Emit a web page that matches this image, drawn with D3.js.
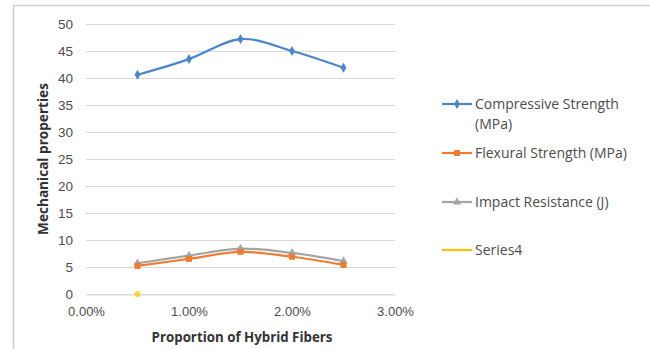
<!DOCTYPE html>
<html>
<head>
<meta charset="utf-8">
<script src="https://cdn.jsdelivr.net/npm/d3@7/dist/d3.min.js"></script>
<style>
  html, body { margin: 0; padding: 0; background: #fff; }
  svg { display: block; font-family: "Open Sans", "Liberation Sans", sans-serif; }
</style>
</head>
<body>
<svg id="chart" width="650" height="349"></svg>
<script>
// Fiber proportions (fraction) and measured properties
const proportions = [0.005, 0.010, 0.015, 0.020, 0.025];
const compressive = [40.6, 43.5, 47.2, 45.0, 41.9];
const flexural = [5.2, 6.5, 7.8, 6.9, 5.4];
const impact = [5.7, 7.1, 8.4, 7.6, 6.1];
const series4 = [0];
const seriesNames = ["Compressive Strength (MPa)", "Flexural Strength (MPa)", "Impact Resistance (J)", "Series4"];
const xTicks = [0, 0.01, 0.02, 0.03];
const yTicks = [0, 5, 10, 15, 20, 25, 30, 35, 40, 45, 50];

const svg = d3.select("#chart");
const W = 650, H = 349;

// outer chart frame (top and left edges visible)
svg.append("path")
  .attr("d", `M13.5,${H} L13.5,5.5 L${W},5.5`)
  .attr("fill", "none").attr("stroke", "#d0d0d0").attr("stroke-width", 1.5);

const plot = { left: 86, right: 395, top: 24, bottom: 294 };
const x = d3.scaleLinear().domain([0, 0.03]).range([plot.left, plot.right]);
const y = d3.scaleLinear().domain([0, 50]).range([plot.bottom, plot.top]);

// horizontal gridlines
svg.append("g").selectAll("line").data(yTicks).join("line")
  .attr("x1", plot.left).attr("x2", plot.right)
  .attr("y1", d => y(d) + 0.5).attr("y2", d => y(d) + 0.5)
  .attr("stroke", "#d9d9d9").attr("stroke-width", 1.2);

// y axis
const yAxis = svg.append("g").attr("transform", `translate(${plot.left},0)`)
  .call(d3.axisLeft(y).tickValues(yTicks).tickSize(0).tickPadding(13));
yAxis.select(".domain").remove();
yAxis.selectAll("text").attr("font-size", 13.5).attr("fill", "#4d4d4d");

// x axis
const xAxis = svg.append("g").attr("transform", `translate(0,${plot.bottom + 0.5})`)
  .call(d3.axisBottom(x).tickValues(xTicks).tickSize(0).tickPadding(12)
    .tickFormat(d3.format(".2%")));
xAxis.select(".domain").attr("stroke", "#d9d9d9").attr("stroke-width", 1.2);
xAxis.selectAll("text").attr("font-size", 13).attr("fill", "#4d4d4d");

// axis titles
svg.append("text")
  .attr("transform", `translate(48,${(plot.top + plot.bottom) / 2}) rotate(-90)`)
  .attr("text-anchor", "middle").attr("font-size", 13.6).attr("font-weight", "bold")
  .attr("fill", "#333").text("Mechanical properties");
svg.append("text")
  .attr("x", 242).attr("y", 342)
  .attr("text-anchor", "middle").attr("font-size", 13.3).attr("font-weight", "bold")
  .attr("fill", "#333").text("Proportion of Hybrid Fibers");

const colors = ["#4a86c8", "#ed7d31", "#a5a5a5", "#ffc000"];
const symbols = [d3.symbolDiamond, d3.symbolSquare, d3.symbolTriangle, d3.symbolCircle];
const symSizes = [30, 36, 30, 30];

const line = d3.line()
  .x((d, i) => x(proportions[i]))
  .y(d => y(d))
  .curve(d3.curveCardinal.tension(0));

const allSeries = [compressive, flexural, impact, series4];
// draw gray first so the orange line sits on top of it
[2, 1, 0, 3].forEach(si => {
  const vals = allSeries[si];
  const g = svg.append("g");
  if (vals.length > 1) {
    g.append("path").datum(vals)
      .attr("d", line).attr("fill", "none")
      .attr("stroke", colors[si]).attr("stroke-width", 2.2);
  }
  g.selectAll("path.m").data(vals).join("path").attr("class", "m")
    .attr("transform", (d, i) => `translate(${x(proportions[i])},${y(d)})`)
    .attr("d", d3.symbol().type(symbols[si]).size(symSizes[si]))
    .attr("fill", colors[si]).attr("opacity", si === 3 ? 0.7 : 1);
});

// legend
const legendRows = [
  { idx: 0, y: 104, lines: ["Compressive Strength", "(MPa)"] },
  { idx: 1, y: 153, lines: ["Flexural Strength (MPa)"] },
  { idx: 2, y: 202, lines: ["Impact Resistance (J)"] },
  { idx: 3, y: 250, lines: ["Series4"] }
];
const lg = svg.append("g");
legendRows.forEach(r => {
  lg.append("line").attr("x1", 442).attr("x2", 472).attr("y1", r.y).attr("y2", r.y)
    .attr("stroke", colors[r.idx]).attr("stroke-width", 2.2);
  if (r.idx !== 3) {
    lg.append("path").attr("transform", `translate(457,${r.y})`)
      .attr("d", d3.symbol().type(symbols[r.idx]).size(symSizes[r.idx]))
      .attr("fill", colors[r.idx]);
  }
  r.lines.forEach((t, k) => {
    lg.append("text").attr("x", 475).attr("y", r.y + k * 20).attr("dy", "0.35em")
      .attr("font-size", 14).attr("fill", "#4d4d4d").text(t);
  });
});
</script>
</body>
</html>
